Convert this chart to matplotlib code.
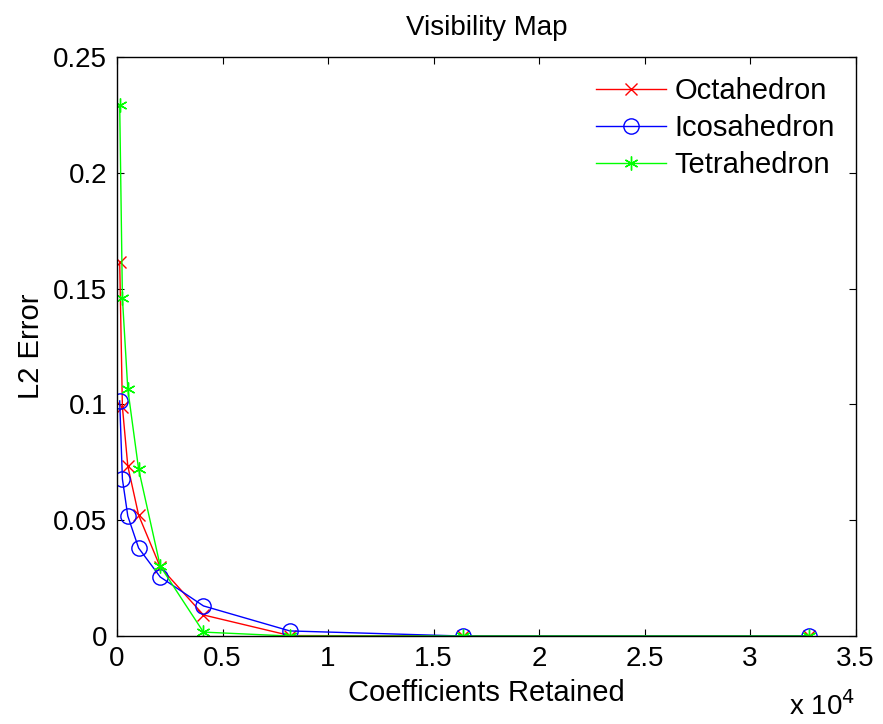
import numpy as np
import matplotlib
matplotlib.use('Agg')
import matplotlib.pyplot as plt
from matplotlib.ticker import FuncFormatter

plt.rcParams.update({
    'font.family': 'Liberation Sans',
    'font.size': 20,
    'xtick.direction': 'in',
    'ytick.direction': 'in',
    'xtick.top': True,
    'ytick.right': True,
})

# coefficients retained (same levels for all three bases)
coeffs = [128, 256, 512, 1024, 2048, 4096, 8192, 16384, 32768]
octahedron = [0.1615, 0.0989, 0.0734, 0.0522, 0.0298, 0.0091, 0.0002, 0.0, 0.0]
icosahedron = [0.1015, 0.0678, 0.0518, 0.0380, 0.0255, 0.0130, 0.0022, 0.0, 0.0]
tetrahedron = [0.2293, 0.1460, 0.1066, 0.0721, 0.0302, 0.0017, 0.0, 0.0, 0.0]

fig = plt.figure(figsize=(8.83, 7.24), dpi=100)
ax = fig.add_axes([0.1325, 0.1215, 0.8365, 0.7998])

ax.plot(coeffs, octahedron, '-', color='#ff0000', marker='x', markersize=8,
        markeredgewidth=1.0, linewidth=1.0, label='Octahedron')
ax.plot(coeffs, icosahedron, '-', color='#0000ff', marker='o', markersize=11,
        markerfacecolor='none', markeredgewidth=1.0, linewidth=1.0, label='Icosahedron')
ax.plot(coeffs, tetrahedron, '-', color='#00ff00', marker=(6, 2, 0), markersize=10,
        markeredgewidth=1.0, linewidth=1.0, label='Tetrahedron')

ax.set_xlim(0, 35000)
ax.set_ylim(0, 0.25)
ax.set_xticks(np.arange(0, 35001, 5000))
ax.xaxis.set_major_formatter(FuncFormatter(lambda v, p: f'{v / 1e4:g}'))
ax.set_yticks([0, 0.05, 0.1, 0.15, 0.2, 0.25])
ax.yaxis.set_major_formatter(FuncFormatter(lambda v, p: f'{v:g}'))
ax.tick_params(length=5, width=0.8, pad=7, labelsize=20)
for s in ax.spines.values():
    s.set_linewidth(1.0)

ax.set_title('Visibility Map', fontsize=20, pad=16)
ax.set_xlabel('Coefficients Retained', fontsize=21, labelpad=5)
ax.set_ylabel('L2 Error', fontsize=21, labelpad=6)
fig.text(0.893, 0.012, 'x 10$^4$', fontsize=20)

ax.legend(loc='upper right', frameon=False, fontsize=21, labelspacing=0.3,
          handlelength=2.4, handletextpad=0.3, borderaxespad=0.5,
          borderpad=0.2)

plt.savefig('out.png', dpi=100)
plt.close()
